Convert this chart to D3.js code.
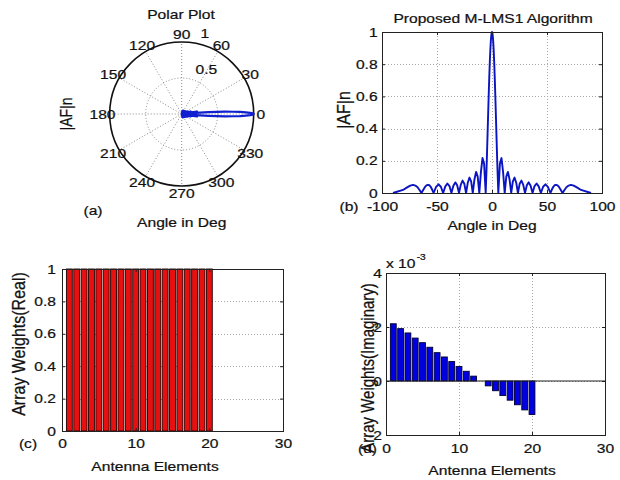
<!DOCTYPE html>
<html><head><meta charset="utf-8">
<script src="https://cdn.jsdelivr.net/npm/d3@7"></script>
<style>
body{margin:0;background:#fff}
svg{display:block;background:#fff}
text{font-family:"Liberation Sans",Arial,Helvetica,sans-serif;fill:#111;stroke:#111;stroke-width:0.22px}
</style>
</head><body>
<svg id="chart" width="620" height="480"></svg>
<script>
// ---------- data ----------
const angleDeg = [-90,-80.93,-77.16,-74.26,-71.81,-69.63,-67.67,-65.86,-64.16,-62.56,-61.04,-59.60,-58.21,-56.87,-55.59,-54.34,-53.13,-50.81,-48.59,-46.47,-44.43,-42.45,-40.54,-38.68,-36.87,-35.10,-33.37,-31.67,-30.00,-28.36,-26.74,-25.15,-23.58,-22.02,-20.49,-18.97,-17.46,-15.96,-14.48,-13.00,-11.54,-10.08,-8.63,-7.18,-5.74,-5,-4.5,-4,-3.5,-3,-2.5,-2,-1.5,-1,-0.5,0,0.5,1,1.5,2,2.5,3,3.5,4,4.5,5,5.74,7.18,8.63,10.08,11.54,13.00,14.48,15.96,17.46,18.97,20.49,22.02,23.58,25.15,26.74,28.36,30.00,31.67,33.37,35.10,36.87,38.68,40.54,42.45,44.43,46.47,48.59,50.81,53.13,54.34,55.59,56.87,58.21,59.60,61.04,62.56,64.16,65.86,67.67,69.63,71.81,74.26,77.16,80.93,90];
const afValue = [0,0.019,0.035,0.046,0.050,0.046,0.036,0.019,0,0.019,0.036,0.047,0.051,0.048,0.037,0.020,0,0.038,0.054,0.039,0,0.041,0.059,0.043,0,0.045,0.066,0.048,0,0.052,0.077,0.057,0,0.064,0.096,0.072,0,0.084,0.131,0.102,0,0.130,0.217,0.181,0,0.143,0.255,0.372,0.491,0.607,0.716,0.812,0.891,0.951,0.988,1,0.988,0.951,0.891,0.812,0.716,0.607,0.491,0.372,0.255,0.143,0,0.181,0.217,0.130,0,0.102,0.131,0.084,0,0.072,0.096,0.064,0,0.057,0.077,0.052,0,0.048,0.066,0.045,0,0.043,0.059,0.041,0,0.039,0.054,0.038,0,0.020,0.037,0.048,0.051,0.047,0.036,0.019,0,0.019,0.036,0.046,0.050,0.046,0.035,0.019,0];

const afXTicks = [-100,-50,0,50,100];
const afYTicks = [0,0.2,0.4,0.6,0.8,1];
const polarAngleTicks = [0,30,60,90,120,150,180,210,240,270,300,330];
const polarRingTicks = [0.5,1];

const elements = [1,2,3,4,5,6,7,8,9,10,11,12,13,14,15,16,17,18,19,20];
const realWeights = [1,1,1,1,1,1,1,1,1,1,1,1,1,1,1,1,1,1,1,1];
const imagWeights = [2.12,1.94,1.78,1.59,1.42,1.25,1.05,0.89,0.72,0.54,0.36,0.18,0,-0.18,-0.36,-0.54,-0.71,-0.88,-1.07,-1.24]; // x 1e-3
const elemXTicks = [0,10,20,30];
const realYTicks = [0,0.2,0.4,0.6,0.8,1];
const imagYTicks = [-2,0,2,4];

// ---------- helpers ----------
const svg = d3.select("#chart");
const SX = 1.2, FS = 13;
const FONT = '"Liberation Sans",Arial,Helvetica,sans-serif';
const fmt = d => String(d);

function label(x, y, s, anchor = "middle", size = FS) {
  return svg.append("text")
    .attr("transform", `translate(${x},${y}) scale(${SX},1)`)
    .attr("text-anchor", anchor).attr("font-size", size).text(s);
}
function vlabel(x, y, s, size) {
  return svg.append("text")
    .attr("transform", `translate(${x},${y}) rotate(-90) scale(1,${SX})`)
    .attr("text-anchor", "middle").attr("dominant-baseline", "central")
    .attr("font-size", size).text(s);
}
function grid(x, y, xt, yt) {
  const [y0, y1] = y.range(), [x0, x1] = x.range();
  const g = svg.append("g").attr("shape-rendering", "crispEdges");
  g.append("g").attr("transform", `translate(0,${y0})`)
    .call(d3.axisBottom(x).tickValues(xt).tickSize(-(y0 - y1)).tickFormat(""))
    .call(s => { s.select(".domain").remove(); s.selectAll("line").attr("stroke", "#a8a8a8").attr("stroke-dasharray", "1,2"); });
  g.append("g").attr("transform", `translate(${x0},0)`)
    .call(d3.axisLeft(y).tickValues(yt).tickSize(-(x1 - x0)).tickFormat(""))
    .call(s => { s.select(".domain").remove(); s.selectAll("line").attr("stroke", "#a8a8a8").attr("stroke-dasharray", "1,2"); });
}
function box(x, y, xt, yt, padX, padY) {
  const [y0, y1] = y.range(), [x0, x1] = x.range();
  const g = svg.append("g");
  const tk = (sel) => { sel.select(".domain").remove(); sel.selectAll("line").attr("stroke", "#222"); };
  g.append("g").attr("transform", `translate(0,${y0})`).call(d3.axisBottom(x).tickValues(xt).tickSize(-3).tickFormat("")).call(tk);
  g.append("g").attr("transform", `translate(0,${y1})`).call(d3.axisTop(x).tickValues(xt).tickSize(-3).tickFormat("")).call(tk);
  g.append("g").attr("transform", `translate(${x0},0)`).call(d3.axisLeft(y).tickValues(yt).tickSize(-3).tickFormat("")).call(tk);
  g.append("g").attr("transform", `translate(${x1},0)`).call(d3.axisRight(y).tickValues(yt).tickSize(-3).tickFormat("")).call(tk);
  g.append("rect").attr("x", x0).attr("y", y1).attr("width", x1 - x0).attr("height", y0 - y1)
    .attr("fill", "none").attr("stroke", "#222").attr("stroke-width", 1).attr("shape-rendering", "crispEdges");
  const lab = (sel) => {
    sel.attr("font-family", FONT).attr("font-size", FS);
    sel.select(".domain").remove();
    sel.selectAll("text").attr("fill", "#111").attr("transform", `scale(${SX},1)`);
  };
  g.append("g").attr("transform", `translate(0,${y0})`)
    .call(d3.axisBottom(x).tickValues(xt).tickSize(0).tickPadding(padY).tickFormat(fmt)).call(lab);
  g.append("g").attr("transform", `translate(${x0},0)`)
    .call(d3.axisLeft(y).tickValues(yt).tickSize(0).tickPadding(padX).tickFormat(fmt)).call(lab);
}

// ---------- (a) polar plot ----------
const cx = 181.7, cy = 114;
const rP = d3.scaleLinear().domain([0, 1]).range([0, 72]);
const gp = svg.append("g").attr("transform", `translate(${cx},${cy})`);
const rad = a => a * Math.PI / 180;
gp.selectAll("line.spoke").data(polarAngleTicks).join("line")
  .attr("x1", 0).attr("y1", 0)
  .attr("x2", d => rP(1) * Math.cos(rad(d))).attr("y2", d => -rP(1) * Math.sin(rad(d)))
  .attr("stroke", "#8a8a8a").attr("stroke-width", 1).attr("stroke-dasharray", "1,2");
gp.append("circle").attr("r", rP(polarRingTicks[0])).attr("fill", "none")
  .attr("stroke", "#8a8a8a").attr("stroke-dasharray", "1,2");
gp.append("circle").attr("r", rP(polarRingTicks[1])).attr("fill", "none")
  .attr("stroke", "#111").attr("stroke-width", 1.6);
const radial = d3.lineRadial()
  .angle((d, i) => Math.PI / 2 - rad(angleDeg[i]))
  .radius(d => rP(d));
gp.append("path").datum(afValue).attr("d", radial)
  .attr("fill", "none").attr("stroke", "#1020d0").attr("stroke-width", 2.2).attr("stroke-linejoin", "round");
polarAngleTicks.forEach(a => {
  const x = cx + rP(1.1) * Math.cos(rad(a)), y = cy - rP(1.1) * Math.sin(rad(a));
  label(x, y + 4.6, String(a), "middle", 13);
});
polarRingTicks.forEach(r => {
  const x = cx + rP(r + 0.025) * Math.cos(rad(82)) + 8.5, y = cy - rP(r + 0.025) * Math.sin(rad(82)) - 2.8;
  label(x, y, String(r), "start", 13);
});
label(181, 18.5, "Polar Plot");
vlabel(66, 114, "|AF|n", 14);
label(93, 214.5, "(a)");
label(181.7, 226.5, "Angle in Deg");

// ---------- (b) AF pattern ----------
const xB = d3.scaleLinear().domain([-100, 100]).range([382, 602]);
const yB = d3.scaleLinear().domain([0, 1]).range([193, 32]);
grid(xB, yB, afXTicks, afYTicks);
const lineB = d3.line().x((d, i) => xB(angleDeg[i])).y(d => yB(d));
svg.append("path").datum(afValue).attr("d", lineB)
  .attr("fill", "none").attr("stroke", "#0b14c2").attr("stroke-width", 1.9).attr("stroke-linejoin", "round");
box(xB, yB, afXTicks, afYTicks, 3.7, 8.5);
label(493, 23, "Proposed M-LMS1 Algorithm");
vlabel(343, 110, "|AF|n", 16);
label(349, 211, "(b)");
label(492, 229.5, "Angle in Deg");

// ---------- (c) real weights ----------
const xC = d3.scaleLinear().domain([0, 30]).range([62, 283]);
const yC = d3.scaleLinear().domain([0, 1]).range([431, 269]);
grid(xC, yC, elemXTicks, realYTicks);
svg.append("g").selectAll("rect").data(elements).join("rect")
  .attr("x", d => xC(d - 0.4)).attr("width", xC(0.8) - xC(0))
  .attr("y", (d, i) => yC(realWeights[i])).attr("height", (d, i) => yC(0) - yC(realWeights[i]))
  .attr("fill", "#e61010").attr("stroke", "#200000").attr("stroke-width", 0.9);
box(xC, yC, elemXTicks, realYTicks, 5, 7.5);
vlabel(18, 344, "Array Weights(Real)", 16);
label(28, 448, "(c)");
label(155, 471, "Antenna Elements");

// ---------- (d) imaginary weights ----------
const xD = d3.scaleLinear().domain([0, 30]).range([386, 605]);
const yD = d3.scaleLinear().domain([-2, 4]).range([435, 273]);
grid(xD, yD, elemXTicks, imagYTicks);
svg.append("g").selectAll("rect").data(elements).join("rect")
  .attr("x", d => xD(d - 0.4)).attr("width", xD(0.8) - xD(0))
  .attr("y", (d, i) => yD(Math.max(0, imagWeights[i])))
  .attr("height", (d, i) => Math.abs(yD(imagWeights[i]) - yD(0)))
  .attr("fill", "#0000e0").attr("stroke", "#000030").attr("stroke-width", 0.9);
svg.append("line").attr("x1", xD(0)).attr("x2", xD(30)).attr("y1", yD(0)).attr("y2", yD(0))
  .attr("stroke", "#222").attr("stroke-width", 1.2);
box(xD, yD, elemXTicks, imagYTicks, 3.5, 8.5);
const exp = label(386, 268, "x 10", "start");
exp.append("tspan").attr("font-size", 8.5).attr("dy", -8).attr("dx", 1).text("-3");
vlabel(368, 368, "Array Weights(Imaginary)", 15);
label(367.5, 453, "(d)");
label(492, 475, "Antenna Elements");
</script>
</body></html>
